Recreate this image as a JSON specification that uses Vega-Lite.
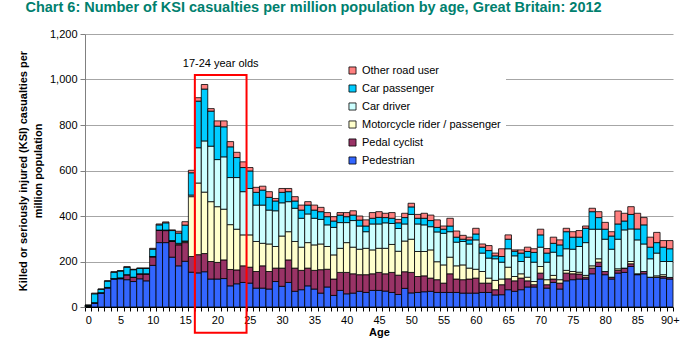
{
  "$schema": "https://vega.github.io/schema/vega-lite/v6.json",
  "width": 588,
  "height": 273,
  "autosize": "none",
  "padding": {"left": 85, "top": 34, "right": 26, "bottom": 42},
  "background": "white",
  "title": {"text": "Chart 6: Number of KSI casualties per million population by age, Great Britain: 2012", "anchor": "start", "frame": "bounds", "dx": 8, "fontSize": 14.5, "font": "Liberation Sans", "fontWeight": "bold", "color": "#00806E", "offset": 13},
  "config": {"view": {"stroke": null}},
  "datasets": {
    "types": [
      {"key": "ped", "type": "Pedestrian", "ord": 1},
      {"key": "cyc", "type": "Pedal cyclist", "ord": 2},
      {"key": "moto", "type": "Motorcycle rider / passenger", "ord": 3},
      {"key": "drv", "type": "Car driver", "ord": 4},
      {"key": "pas", "type": "Car passenger", "ord": 5},
      {"key": "oth", "type": "Other road user", "ord": 6}
    ],
    "box": [{"from": 17, "to": 25, "lo": -113, "hi": 1020, "mid": 21, "ty": 1068, "label": "17-24 year olds"}],
    "ksi": [
      {"age":0,"ped":4,"cyc":0,"moto":0,"drv":0,"pas":4,"oth":0},
      {"age":1,"ped":17,"cyc":2,"moto":0,"drv":0,"pas":39,"oth":3},
      {"age":2,"ped":61,"cyc":2,"moto":0,"drv":0,"pas":15,"oth":1},
      {"age":3,"ped":83,"cyc":3,"moto":0,"drv":0,"pas":28,"oth":1},
      {"age":4,"ped":123,"cyc":2,"moto":0,"drv":0,"pas":28,"oth":2},
      {"age":5,"ped":124,"cyc":4,"moto":0,"drv":0,"pas":30,"oth":2},
      {"age":6,"ped":120,"cyc":22,"moto":0,"drv":0,"pas":33,"oth":2},
      {"age":7,"ped":112,"cyc":19,"moto":0,"drv":0,"pas":33,"oth":2},
      {"age":8,"ped":124,"cyc":22,"moto":0,"drv":0,"pas":24,"oth":1},
      {"age":9,"ped":115,"cyc":31,"moto":0,"drv":0,"pas":24,"oth":1},
      {"age":10,"ped":183,"cyc":37,"moto":2,"drv":0,"pas":32,"oth":4},
      {"age":11,"ped":283,"cyc":55,"moto":0,"drv":0,"pas":23,"oth":4},
      {"age":12,"ped":283,"cyc":53,"moto":0,"drv":2,"pas":32,"oth":4},
      {"age":13,"ped":219,"cyc":69,"moto":2,"drv":2,"pas":44,"oth":3},
      {"age":14,"ped":181,"cyc":92,"moto":3,"drv":4,"pas":45,"oth":8},
      {"age":15,"ped":201,"cyc":82,"moto":4,"drv":3,"pas":70,"oth":15},
      {"age":16,"ped":153,"cyc":69,"moto":263,"drv":7,"pas":98,"oth":11},
      {"age":17,"ped":150,"cyc":80,"moto":315,"drv":155,"pas":205,"oth":15},
      {"age":18,"ped":155,"cyc":80,"moto":270,"drv":225,"pas":228,"oth":20},
      {"age":19,"ped":123,"cyc":77,"moto":263,"drv":244,"pas":154,"oth":11},
      {"age":20,"ped":123,"cyc":73,"moto":245,"drv":207,"pas":147,"oth":23},
      {"age":21,"ped":125,"cyc":82,"moto":223,"drv":230,"pas":132,"oth":26},
      {"age":22,"ped":93,"cyc":72,"moto":197,"drv":207,"pas":135,"oth":23},
      {"age":23,"ped":102,"cyc":61,"moto":179,"drv":227,"pas":88,"oth":23},
      {"age":24,"ped":108,"cyc":73,"moto":136,"drv":190,"pas":106,"oth":25},
      {"age":25,"ped":105,"cyc":70,"moto":142,"drv":204,"pas":77,"oth":15},
      {"age":26,"ped":83,"cyc":73,"moto":132,"drv":160,"pas":56,"oth":22},
      {"age":27,"ped":83,"cyc":98,"moto":99,"drv":168,"pas":66,"oth":17},
      {"age":28,"ped":79,"cyc":77,"moto":121,"drv":149,"pas":56,"oth":25},
      {"age":29,"ped":112,"cyc":59,"moto":95,"drv":157,"pas":43,"oth":11},
      {"age":30,"ped":91,"cyc":80,"moto":141,"drv":146,"pas":46,"oth":17},
      {"age":31,"ped":108,"cyc":99,"moto":124,"drv":132,"pas":44,"oth":14},
      {"age":32,"ped":69,"cyc":102,"moto":117,"drv":146,"pas":32,"oth":19},
      {"age":33,"ped":76,"cyc":85,"moto":102,"drv":127,"pas":36,"oth":22},
      {"age":34,"ped":93,"cyc":78,"moto":112,"drv":126,"pas":39,"oth":15},
      {"age":35,"ped":79,"cyc":82,"moto":112,"drv":117,"pas":36,"oth":22},
      {"age":36,"ped":61,"cyc":103,"moto":113,"drv":108,"pas":34,"oth":19},
      {"age":37,"ped":88,"cyc":78,"moto":100,"drv":95,"pas":36,"oth":18},
      {"age":38,"ped":51,"cyc":72,"moto":106,"drv":121,"pas":28,"oth":19},
      {"age":39,"ped":73,"cyc":79,"moto":106,"drv":113,"pas":33,"oth":11},
      {"age":40,"ped":58,"cyc":94,"moto":131,"drv":88,"pas":26,"oth":18},
      {"age":41,"ped":61,"cyc":85,"moto":117,"drv":117,"pas":24,"oth":19},
      {"age":42,"ped":69,"cyc":73,"moto":112,"drv":102,"pas":26,"oth":18},
      {"age":43,"ped":64,"cyc":78,"moto":116,"drv":73,"pas":25,"oth":27},
      {"age":44,"ped":73,"cyc":73,"moto":105,"drv":114,"pas":25,"oth":25},
      {"age":45,"ped":73,"cyc":79,"moto":106,"drv":107,"pas":29,"oth":25},
      {"age":46,"ped":70,"cyc":76,"moto":112,"drv":112,"pas":23,"oth":19},
      {"age":47,"ped":64,"cyc":88,"moto":123,"drv":92,"pas":23,"oth":25},
      {"age":48,"ped":55,"cyc":85,"moto":105,"drv":100,"pas":25,"oth":15},
      {"age":49,"ped":82,"cyc":73,"moto":135,"drv":75,"pas":28,"oth":19},
      {"age":50,"ped":62,"cyc":90,"moto":146,"drv":109,"pas":33,"oth":16},
      {"age":51,"ped":64,"cyc":70,"moto":110,"drv":121,"pas":25,"oth":17},
      {"age":52,"ped":67,"cyc":70,"moto":107,"drv":117,"pas":29,"oth":22},
      {"age":53,"ped":69,"cyc":58,"moto":124,"drv":102,"pas":27,"oth":24},
      {"age":54,"ped":64,"cyc":56,"moto":79,"drv":131,"pas":20,"oth":33},
      {"age":55,"ped":64,"cyc":41,"moto":80,"drv":139,"pas":18,"oth":14},
      {"age":56,"ped":64,"cyc":82,"moto":73,"drv":112,"pas":25,"oth":34},
      {"age":57,"ped":64,"cyc":59,"moto":58,"drv":104,"pas":22,"oth":27},
      {"age":58,"ped":61,"cyc":59,"moto":65,"drv":103,"pas":10,"oth":17},
      {"age":59,"ped":61,"cyc":62,"moto":48,"drv":106,"pas":18,"oth":12},
      {"age":60,"ped":61,"cyc":66,"moto":39,"drv":129,"pas":26,"oth":25},
      {"age":61,"ped":64,"cyc":41,"moto":51,"drv":81,"pas":26,"oth":14},
      {"age":62,"ped":64,"cyc":41,"moto":22,"drv":88,"pas":33,"oth":22},
      {"age":63,"ped":53,"cyc":23,"moto":41,"drv":95,"pas":13,"oth":12},
      {"age":64,"ped":54,"cyc":44,"moto":25,"drv":74,"pas":25,"oth":34},
      {"age":65,"ped":76,"cyc":48,"moto":51,"drv":81,"pas":42,"oth":19},
      {"age":66,"ped":69,"cyc":46,"moto":19,"drv":91,"pas":20,"oth":6},
      {"age":67,"ped":76,"cyc":51,"moto":19,"drv":54,"pas":37,"oth":14},
      {"age":68,"ped":88,"cyc":27,"moto":16,"drv":88,"pas":25,"oth":19},
      {"age":69,"ped":88,"cyc":10,"moto":14,"drv":85,"pas":43,"oth":16},
      {"age":70,"ped":123,"cyc":26,"moto":29,"drv":85,"pas":54,"oth":25},
      {"age":71,"ped":83,"cyc":15,"moto":22,"drv":77,"pas":40,"oth":20},
      {"age":72,"ped":108,"cyc":15,"moto":16,"drv":102,"pas":39,"oth":27},
      {"age":73,"ped":79,"cyc":26,"moto":15,"drv":105,"pas":48,"oth":22},
      {"age":74,"ped":115,"cyc":34,"moto":12,"drv":95,"pas":75,"oth":15},
      {"age":75,"ped":120,"cyc":26,"moto":10,"drv":98,"pas":53,"oth":24},
      {"age":76,"ped":123,"cyc":22,"moto":8,"drv":113,"pas":41,"oth":29},
      {"age":77,"ped":123,"cyc":8,"moto":8,"drv":144,"pas":63,"oth":10},
      {"age":78,"ped":146,"cyc":25,"moto":10,"drv":161,"pas":77,"oth":15},
      {"age":79,"ped":178,"cyc":19,"moto":15,"drv":130,"pas":51,"oth":26},
      {"age":80,"ped":142,"cyc":14,"moto":0,"drv":142,"pas":44,"oth":30},
      {"age":81,"ped":123,"cyc":8,"moto":0,"drv":123,"pas":58,"oth":19},
      {"age":82,"ped":149,"cyc":12,"moto":7,"drv":130,"pas":67,"oth":57},
      {"age":83,"ped":152,"cyc":19,"moto":0,"drv":168,"pas":39,"oth":34},
      {"age":84,"ped":178,"cyc":12,"moto":10,"drv":143,"pas":64,"oth":34},
      {"age":85,"ped":142,"cyc":4,"moto":0,"drv":149,"pas":48,"oth":69},
      {"age":86,"ped":146,"cyc":10,"moto":0,"drv":121,"pas":84,"oth":32},
      {"age":87,"ped":131,"cyc":0,"moto":0,"drv":81,"pas":51,"oth":44},
      {"age":88,"ped":131,"cyc":0,"moto":6,"drv":100,"pas":46,"oth":45},
      {"age":89,"ped":127,"cyc":7,"moto":8,"drv":58,"pas":63,"oth":29},
      {"age":90,"ped":123,"cyc":7,"moto":0,"drv":70,"pas":56,"oth":36}
    ]
  },
  "layer": [
    {
      "data": {"name": "ksi"},
      "transform": [
        {"fold": ["ped", "cyc", "moto", "drv", "pas", "oth"], "as": ["key", "value"]},
        {"lookup": "key", "from": {"data": {"name": "types"}, "key": "key", "fields": ["type", "ord"]}}
      ],
      "mark": {"type": "bar", "stroke": "#000000", "strokeWidth": 0.8},
      "encoding": {
        "x": {
          "field": "age", "type": "ordinal", "title": "Age",
          "scale": {"paddingInner": 0, "paddingOuter": 0},
          "axis": {
            "labelExpr": "datum.value % 5 == 0 ? (datum.value == 90 ? '90+' : datum.label) : ''",
            "labelAngle": 0, "labelOverlap": false, "tickBand": "extent", "tickSize": 4,
            "tickColor": "#000000", "domainColor": "#000000", "grid": false,
            "labelFont": "Liberation Sans", "labelFontSize": 11, "labelColor": "#000000", "labelPadding": 3,
            "titleFont": "Liberation Sans", "titleFontSize": 11, "titleFontWeight": "bold", "titleColor": "#000000", "titlePadding": 1
          }
        },
        "y": {
          "field": "value", "type": "quantitative", "stack": "zero",
          "title": ["Killed or seriously injured (KSI) casualties per", "million population"],
          "scale": {"domain": [0, 1200]},
          "axis": {
            "values": [0, 200, 400, 600, 800, 1000, 1200], "format": ",d",
            "grid": true, "gridColor": "#a6a6a6", "gridWidth": 1,
            "domainColor": "#808080", "tickColor": "#808080", "tickSize": 5,
            "labelFont": "Liberation Sans", "labelFontSize": 11, "labelColor": "#000000", "labelPadding": 3,
            "titleFont": "Liberation Sans", "titleFontSize": 11, "titleFontWeight": "bold", "titleColor": "#000000",
            "titlePadding": 6, "titleLineHeight": 15
          }
        },
        "color": {
          "field": "type", "type": "nominal",
          "scale": {
            "domain": ["Pedestrian", "Pedal cyclist", "Motorcycle rider / passenger", "Car driver", "Car passenger", "Other road user"],
            "range": ["#3366FF", "#993366", "#FFFFCC", "#CCFFFF", "#00CCFF", "#FF8080"]
          },
          "legend": {
            "orient": "none", "legendX": 257, "legendY": 26, "title": null,
            "values": ["Other road user", "Car passenger", "Car driver", "Motorcycle rider / passenger", "Pedal cyclist", "Pedestrian"],
            "symbolType": "square", "symbolSize": 50, "symbolStrokeColor": "#000000", "symbolStrokeWidth": 0.8,
            "labelFont": "Liberation Sans", "labelFontSize": 11, "labelColor": "#000000", "labelOffset": 4,
            "rowPadding": 6, "fillColor": "#ffffff", "padding": 5
          }
        },
        "order": {"field": "ord", "type": "quantitative", "sort": "ascending"}
      }
    },
    {
      "data": {"name": "box"},
      "mark": {"type": "rect", "filled": false, "stroke": "#FF0000", "strokeWidth": 2},
      "encoding": {
        "x": {"field": "from", "type": "ordinal", "bandPosition": 0, "title": "Age"},
        "x2": {"field": "to", "bandPosition": 0},
        "y": {"field": "lo", "type": "quantitative", "title": ["Killed or seriously injured (KSI) casualties per", "million population"]},
        "y2": {"field": "hi"}
      }
    },
    {
      "data": {"name": "box"},
      "mark": {"type": "text", "fontSize": 11, "font": "Liberation Sans", "color": "#000000", "baseline": "middle"},
      "encoding": {
        "x": {"field": "mid", "type": "ordinal", "bandPosition": 0, "title": "Age"},
        "y": {"field": "ty", "type": "quantitative", "title": ["Killed or seriously injured (KSI) casualties per", "million population"]},
        "text": {"field": "label"}
      }
    }
  ]
}
